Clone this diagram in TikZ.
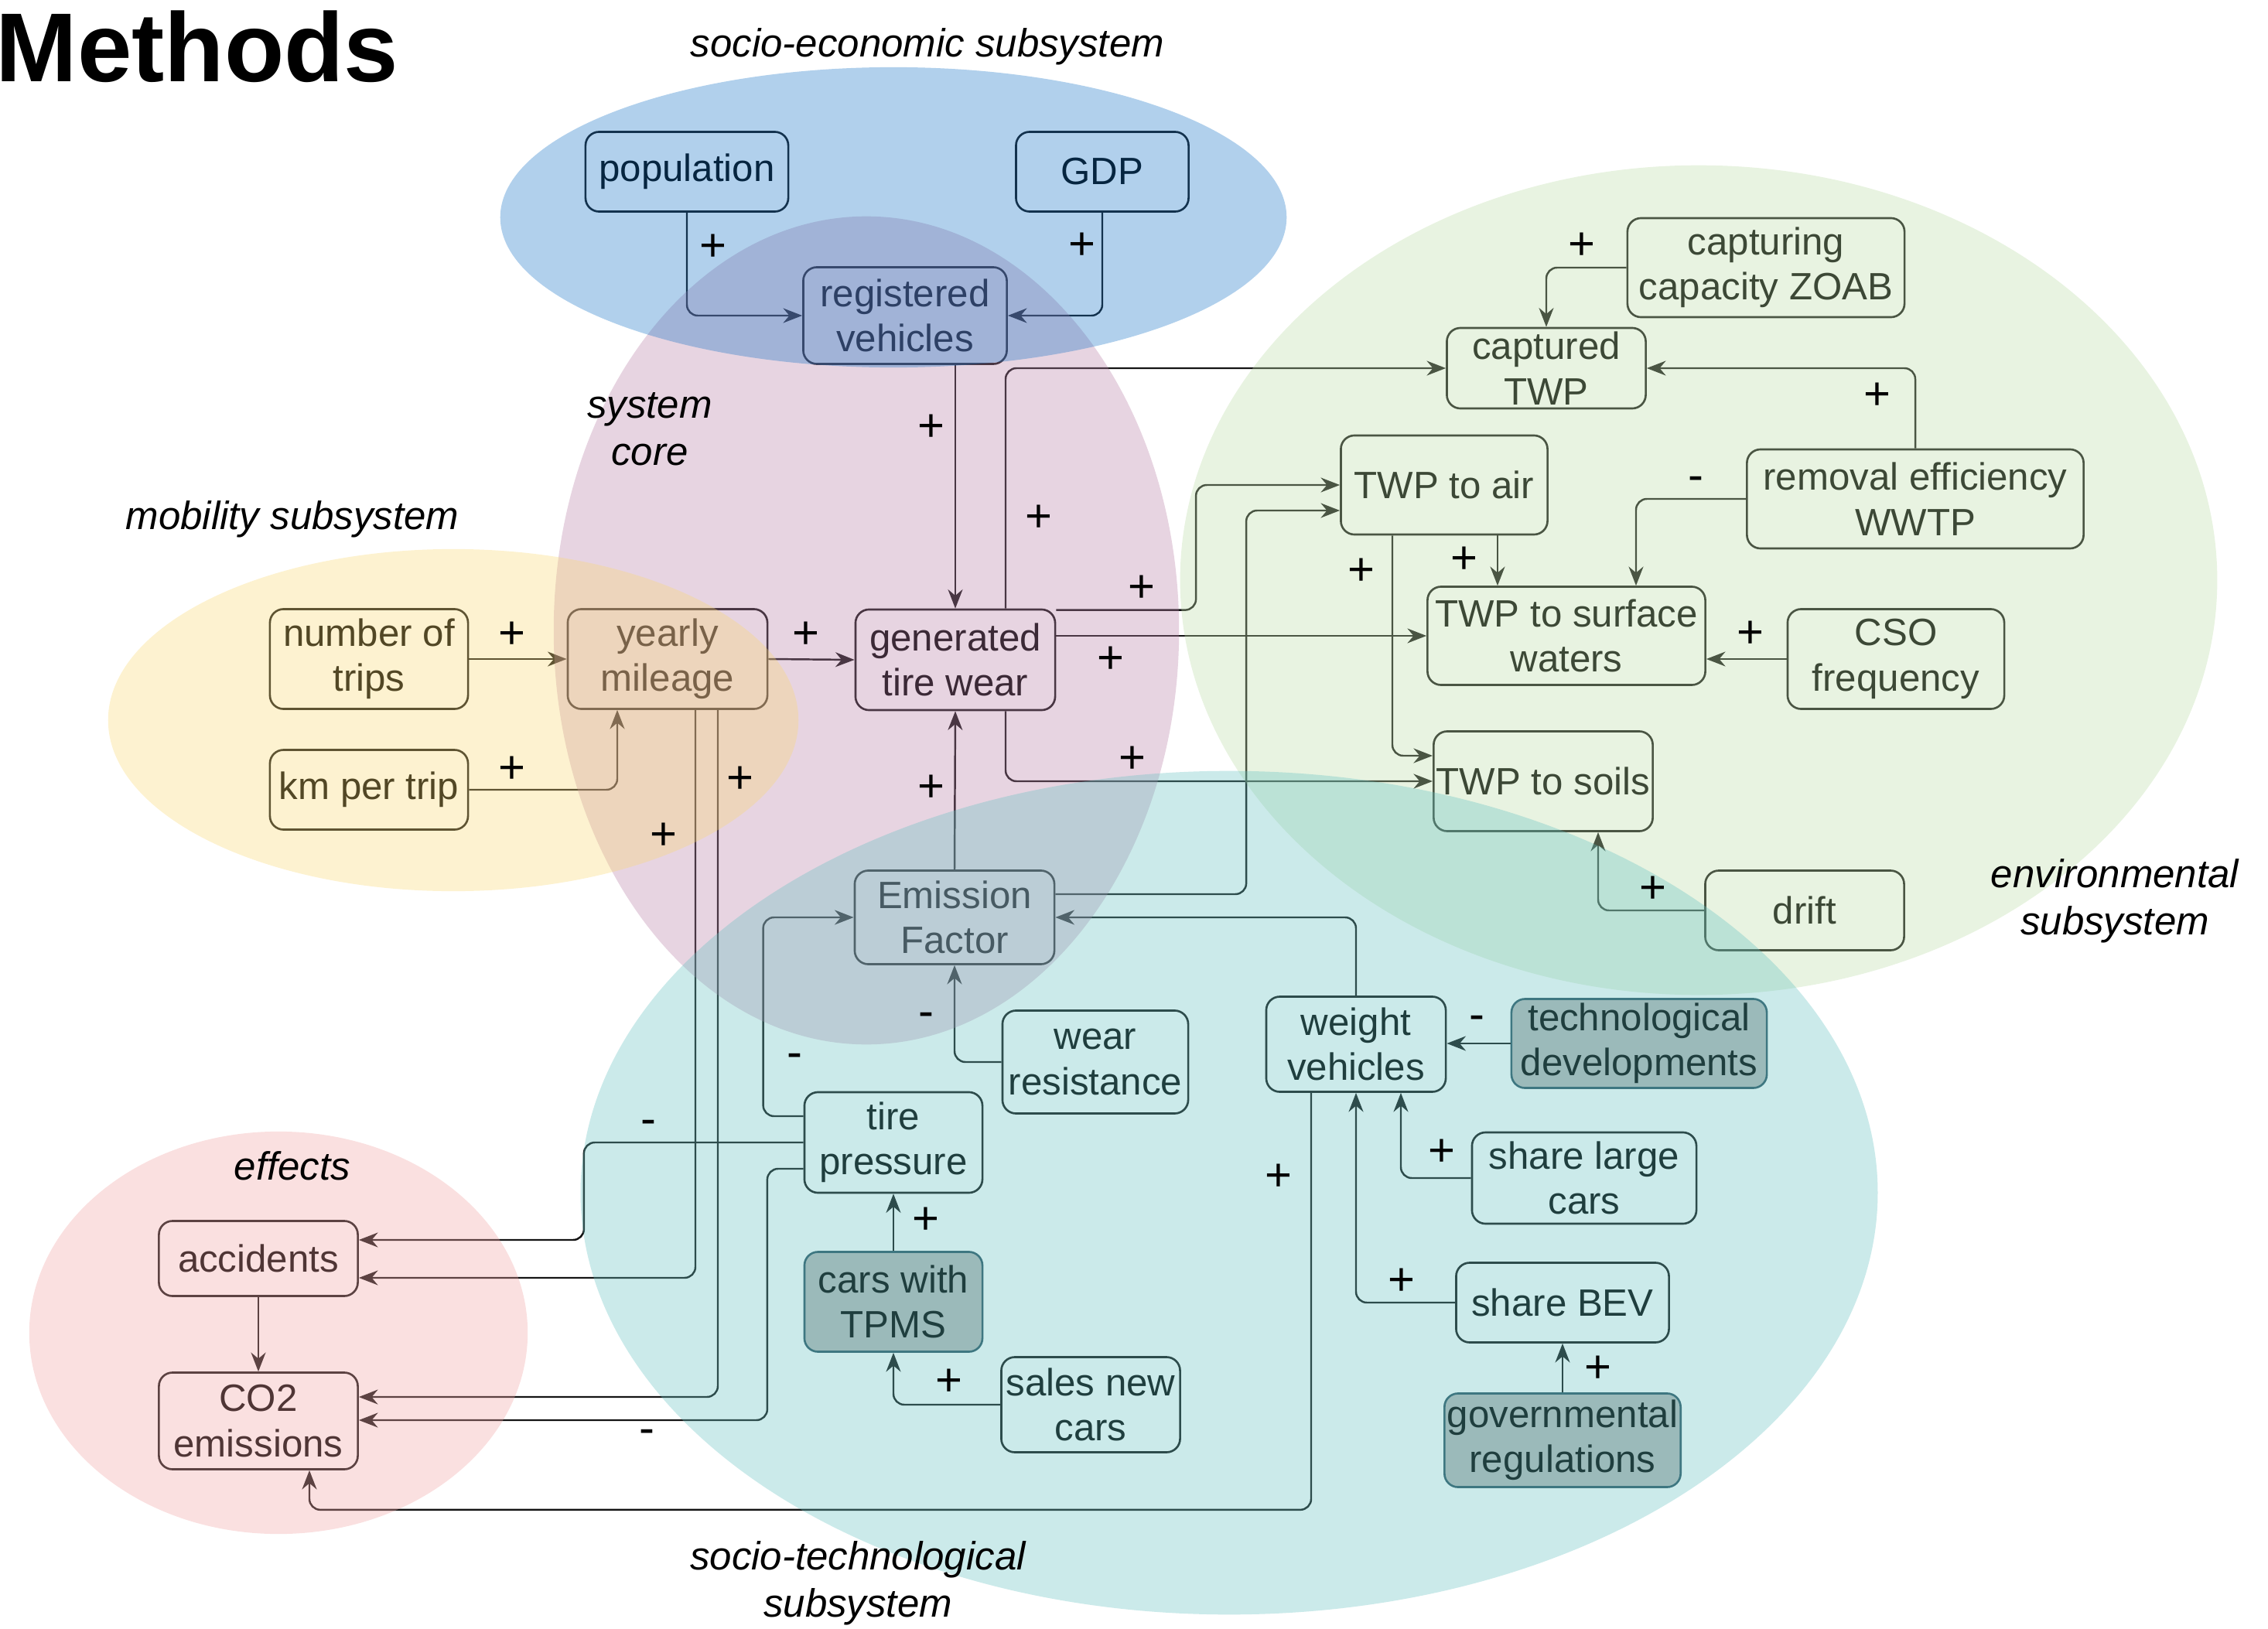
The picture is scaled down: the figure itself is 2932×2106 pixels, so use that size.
\documentclass[tikz,border=0pt]{standalone}
\usepackage{fontspec}
\setmainfont{Liberation Sans}
\usetikzlibrary{arrows.meta}

\definecolor{econblue}{RGB}{19,113,197}
\definecolor{corepink}{RGB}{182,125,164}
\definecolor{mobyellow}{RGB}{249,216,113}
\definecolor{envgreen}{RGB}{185,219,164}
\definecolor{techteal}{RGB}{97,191,191}
\definecolor{effred}{RGB}{240,161,161}
\definecolor{boxline}{RGB}{20,20,20}
\definecolor{darkfill}{RGB}{184,184,184}
\definecolor{darkline}{RGB}{45,85,100}

\begin{document}
\begin{tikzpicture}[
        x=0.01cm, y=-0.01cm,
        box/.style={draw=boxline, rounded corners=5pt, line width=0.75pt, minimum width=2.6cm, minimum height=1.03cm, inner sep=1pt, align=center, font=\fontsize{14}{16.6}\selectfont},
        darkbox/.style={box, fill=darkfill, draw=darkline},
        arrow/.style={-{Stealth[length=7pt,width=5.4pt]}, line width=0.7pt, draw=boxline, rounded corners=4pt},
        zone/.style={fill=#1, fill opacity=0.33},
        polarity/.style={font=\fontsize{17}{17}\selectfont, inner sep=0pt},
        subsys/.style={font=\fontsize{14.5}{17.4}\selectfont\itshape, align=center}
    ]
        \useasboundingbox (0,0) rectangle (2932,2106);

        % Title
        \node[anchor=base west, inner sep=0pt, font=\fontsize{36}{36}\selectfont\bfseries] (title) at (-6,106) {Methods};

        % Socio-economic subsystem
        \node[box, minimum width=2.62cm] (population) at (888,222) {population};
        \node[box, minimum width=2.23cm] (gdp) at (1425,222) {GDP};
        \node[box, minimum width=2.63cm, minimum height=1.25cm] (registered) at (1170,408) {registered\\vehicles};

        % System core
        \node[box, minimum width=2.58cm, minimum height=1.30cm] (generated) at (1235,853) {generated\\tire wear};
        \node[box, minimum width=2.58cm, minimum height=1.21cm] (emission) at (1234,1186) {Emission\\Factor};

        % Mobility subsystem
        \node[box, minimum width=2.56cm, minimum height=1.29cm] (trips) at (477,852) {number of\\trips};
        \node[box, minimum width=2.56cm] (kmtrip) at (477,1021) {km per trip};
        \node[box, minimum width=2.58cm, minimum height=1.29cm] (mileage) at (863,852) {yearly\\mileage};

        % Environmental subsystem
        \node[box, minimum width=3.58cm, minimum height=1.28cm] (zoab) at (2283,346) {capturing\\capacity ZOAB};
        \node[box, minimum width=2.57cm, minimum height=1.04cm, inner ysep=0pt] (captured) at (1999,476) {captured\\TWP};
        \node[box, minimum width=2.67cm, minimum height=1.28cm] (air) at (1867,627) {TWP to air};
        \node[box, minimum width=4.35cm, minimum height=1.28cm] (removal) at (2476,645) {removal efficiency\\WWTP};
        \node[box, minimum width=3.59cm, minimum height=1.27cm] (surface) at (2025,822) {TWP to surface\\waters};
        \node[box, minimum width=2.80cm, minimum height=1.29cm] (cso) at (2451,852) {CSO\\frequency};
        \node[box, minimum width=2.80cm, minimum height=1.29cm] (soils) at (1995,1010) {TWP to soils};
        \node[box, minimum width=2.57cm] (drift) at (2333,1177) {drift};

        % Socio-technological subsystem
        \node[box, minimum width=2.40cm, minimum height=1.33cm] (resistance) at (1416,1373) {wear\\resistance};
        \node[box, minimum width=2.30cm, minimum height=1.30cm] (pressure) at (1155,1477) {tire\\pressure};
        \node[darkbox, minimum width=2.30cm, minimum height=1.29cm] (tpms) at (1155,1683) {cars with\\TPMS};
        \node[box, minimum width=2.31cm, minimum height=1.23cm] (sales) at (1410,1816) {sales new\\cars};
        \node[box, minimum width=2.32cm, minimum height=1.23cm] (weight) at (1753,1350) {weight\\vehicles};
        \node[darkbox, minimum width=3.30cm, minimum height=1.15cm] (techdev) at (2119,1349) {technological\\developments};
        \node[box, minimum width=2.90cm, minimum height=1.18cm] (large) at (2048,1523) {share large\\cars};
        \node[box, minimum width=2.75cm] (bev) at (2020,1684) {share BEV};
        \node[darkbox, minimum width=3.05cm, minimum height=1.21cm] (regulations) at (2020,1862) {governmental\\regulations};

        % Effects
        \node[box, minimum width=2.57cm, minimum height=0.97cm] (accidents) at (334,1627) {accidents};
        \node[box, minimum width=2.57cm, minimum height=1.25cm] (co2) at (334,1837) {CO2\\emissions};

        % Connections: socio-economic and core
        \draw[arrow] (population.south) |- (registered.west);
        \draw[arrow] (gdp.south) |- (registered.east);
        \draw[arrow] (registered.south -| generated.north) -- (generated.north);
        \draw[arrow] ([shift={(65,0)}]generated.north) |- (captured.west);
        \draw[arrow] ([shift={(0,2)}]generated.north east) -| ([shift={(-186,0)}]air.west) -- (air.west);
        \draw[arrow] (generated.east |- surface.west) -- (surface.west);
        \draw[arrow] ([shift={(65,0)}]generated.south) |- (soils.west);
        \draw[arrow] (emission.north) -- (generated.south);
        \draw[arrow] ([shift={(0,-30)}]emission.east) -| ([shift={(-121,33)}]air.west) -- ([shift={(0,33)}]air.west);

        % Connections: mobility
        \draw[arrow] (trips.east) -- (mileage.west);
        \draw[arrow] (kmtrip.east) -| ([shift={(-65,0)}]mileage.south);
        \draw[arrow] (mileage.east) -- (generated.west);
        \draw[arrow] ([shift={(36,0)}]mileage.south) |- ([shift={(0,25)}]accidents.east);
        \draw[arrow] ([shift={(65,0)}]mileage.south) |- ([shift={(0,-31)}]co2.east);

        % Connections: environmental
        \draw[arrow] (zoab.west) -| (captured.north);
        \draw[arrow] (removal.north) |- (captured.east);
        \draw[arrow] (removal.west) -| ([shift={(90,0)}]surface.north);
        \draw[arrow] ([shift={(69,0)}]air.south) -- ([shift={(-89,0)}]surface.north);
        \draw[arrow] ([shift={(-67,0)}]air.south) |- ([shift={(0,-33)}]soils.west);
        \draw[arrow] (cso.west) -- (cso.west -| surface.east);
        \draw[arrow] (drift.west) -| ([shift={(71,0)}]soils.south);

        % Connections: socio-technological
        \draw[arrow] (pressure.west) -| ([shift={(291,-24)}]accidents.east) -- ([shift={(0,-24)}]accidents.east);
        \draw[arrow] ([shift={(0,34)}]pressure.west) -| ([shift={(528,-1)}]co2.east) -- ([shift={(0,-1)}]co2.east);
        \draw[arrow] ([shift={(0,-34)}]pressure.west) -| ([shift={(-117,0)}]emission.west) -- (emission.west);
        \draw[arrow] (resistance.west) -| (emission.south);
        \draw[arrow] (tpms.north) -- (pressure.south);
        \draw[arrow] (sales.west) -| (tpms.south);
        \draw[arrow] (weight.north) |- (emission.east);
        \draw[arrow] ([shift={(-58,0)}]weight.south) |- ([shift={(66,51)}]co2.south) -- ([shift={(66,0)}]co2.south);
        \draw[arrow] (techdev.west) -- (techdev.west -| weight.east);
        \draw[arrow] (large.west) -| ([shift={(58,0)}]weight.south);
        \draw[arrow] (bev.west) -| (weight.south);
        \draw[arrow] (regulations.north) -- (bev.south);

        % Connections: effects
        \draw[arrow] (accidents.south) -- (co2.north);

        % Subsystem areas
        \fill[zone=corepink] (1120,815) ellipse [x radius=4.04cm, y radius=5.35cm];
        \fill[zone=econblue] (1155,281) ellipse [x radius=5.08cm, y radius=1.94cm];
        \fill[zone=mobyellow] (586,931) ellipse [x radius=4.46cm, y radius=2.21cm];
        \fill[zone=envgreen] (2196,750) ellipse [x radius=6.70cm, y radius=5.36cm];
        \fill[zone=techteal] (1589,1542) ellipse [x radius=8.38cm, y radius=5.45cm];
        \fill[zone=effred] (360,1723) ellipse [x radius=3.22cm, y radius=2.60cm];

        % Polarities
        \node[polarity] (p1) at (922,320) {+};
        \node[polarity] (p2) at (1399,318) {+};
        \node[polarity] (p3) at (1204,553) {+};
        \node[polarity] (p4) at (1343,670) {+};
        \node[polarity] (p5) at (1476,761) {+};
        \node[polarity] (p6) at (1436,853) {+};
        \node[polarity] (p7) at (1464,982) {+};
        \node[polarity] (p8) at (1204,1019) {+};
        \node[polarity] (p9) at (662,821) {+};
        \node[polarity] (p10) at (1042,821) {+};
        \node[polarity] (p11) at (662,995) {+};
        \node[polarity] (p12) at (957,1008) {+};
        \node[polarity] (p13) at (858,1081) {+};
        \node[polarity] (p14) at (1027,1371) {-};
        \node[polarity] (p15) at (1197,1318) {-};
        \node[polarity] (p16) at (838,1457) {-};
        \node[polarity] (p17) at (836,1857) {-};
        \node[polarity] (p18) at (1197,1578) {+};
        \node[polarity] (p19) at (1227,1787) {+};
        \node[polarity] (p20) at (1653,1522) {+};
        \node[polarity] (p21) at (1909,1322) {-};
        \node[polarity] (p22) at (1864,1490) {+};
        \node[polarity] (p23) at (1812,1657) {+};
        \node[polarity] (p24) at (2066,1770) {+};
        \node[polarity] (p25) at (2045,318) {+};
        \node[polarity] (p26) at (2427,512) {+};
        \node[polarity] (p27) at (2192,625) {-};
        \node[polarity] (p28) at (1893,724) {+};
        \node[polarity] (p29) at (1760,739) {+};
        \node[polarity] (p30) at (2263,820) {+};
        \node[polarity] (p31) at (2137,1150) {+};

        % Subsystem labels
        \node[subsys] (econlabel) at (1199,60) {socio-economic subsystem};
        \node[subsys] (corelabel) at (840,555) {system\\core};
        \node[subsys] (moblabel) at (378,671) {mobility subsystem};
        \node[subsys] (efflabel) at (378,1507) {effects};
        \node[subsys] (envlabel) at (2734,1165) {environmental\\subsystem};
        \node[subsys] (techlabel) at (1109,2047) {socio-technological\\subsystem};
    \end{tikzpicture}
\end{document}
